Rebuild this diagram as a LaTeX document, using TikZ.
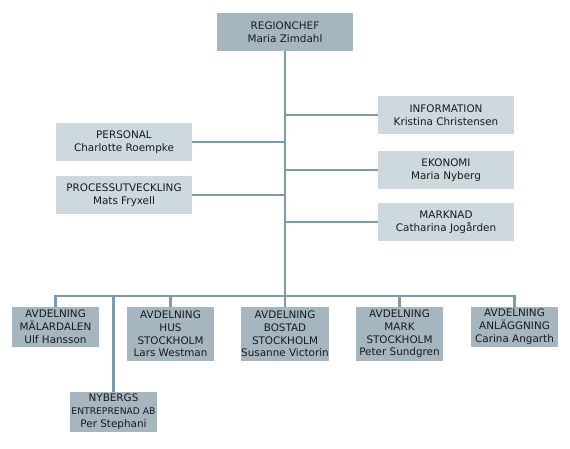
\documentclass[tikz,border=0pt]{standalone}
\usepackage{fontspec}
\setmainfont{DejaVu Sans}
\definecolor{darkbox}{HTML}{A5B6C1}
\definecolor{lightbox}{HTML}{CDD8DF}
\definecolor{linec}{HTML}{7F9BAB}
\definecolor{txt}{HTML}{1A1A1A}
\begin{document}
\begin{tikzpicture}[x=1pt,y=-1pt,
  box/.style={inner sep=0pt, align=center, text=txt, font=\fontsize{10.4}{12.8}\selectfont},
  headbox/.style={box, fill=darkbox, minimum width=136pt, minimum height=38pt},
  staffbox/.style={box, fill=lightbox, minimum width=136pt, minimum height=38pt},
  unitbox/.style={box, fill=darkbox, minimum width=87pt},
  conn/.style={draw=linec, line width=2.8pt}
]
\useasboundingbox (0,0) rectangle (570,448);
\fill[white] (0,0) rectangle (570,448);
% head
\node[headbox] (rc) at (285,32) {REGIONCHEF\\Maria Zimdahl};
% staff
\node[staffbox] (pers) at (124,142) {PERSONAL\\Charlotte Roempke};
\node[staffbox] (proc) at (124,195) {PROCESSUTVECKLING\\Mats Fryxell};
\node[staffbox] (info) at (446,115) {INFORMATION\\Kristina Christensen};
\node[staffbox] (eko) at (446,170) {EKONOMI\\Maria Nyberg};
\node[staffbox] (mark) at (446,222) {MARKNAD\\Catharina Jogården};
% units
\node[unitbox, minimum height=40pt] (mal) at (55.5,327) {AVDELNING\\MÄLARDALEN\\Ulf Hansson};
\node[unitbox, minimum height=54pt] (hus) at (170.5,334) {AVDELNING\\HUS\\STOCKHOLM\\Lars Westman};
\node[unitbox, minimum height=54pt] (bos) at (285,334) {AVDELNING\\BOSTAD\\STOCKHOLM\\Susanne Victorin};
\node[unitbox, minimum height=54pt] (mrk) at (399.5,334) {AVDELNING\\MARK\\STOCKHOLM\\Peter Sundgren};
\node[unitbox, minimum height=40pt] (anl) at (514.5,327) {AVDELNING\\ANLÄGGNING\\Carina Angarth};
\node[unitbox, minimum height=40pt] (nyb) at (113.5,412) {NYBERGS\\{\fontsize{9.2}{12.8}\selectfont ENTREPRENAD AB}\\Per Stephani};
% bus
\coordinate (busL) at (55.5,296);
\coordinate (busR) at (514.5,296);
\coordinate (busM) at (285,296);
\coordinate (nybTop) at (113.5,296);
\draw[conn] (rc.south) -- (busM);
\draw[conn, line cap=rect] (busL) -- (busR);
\draw[conn] (pers.east) -- (pers.east -| rc.south);
\draw[conn] (proc.east) -- (proc.east -| rc.south);
\draw[conn] (info.west) -- (info.west -| rc.south);
\draw[conn] (eko.west) -- (eko.west -| rc.south);
\draw[conn] (mark.west) -- (mark.west -| rc.south);
\draw[conn] (mal.north) -- (mal.north |- busL);
\draw[conn] (hus.north) -- (hus.north |- busL);
\draw[conn] (bos.north) -- (bos.north |- busL);
\draw[conn] (mrk.north) -- (mrk.north |- busL);
\draw[conn] (anl.north) -- (anl.north |- busL);
\draw[conn] (nyb.north) -- (nybTop);
\end{tikzpicture}
\end{document}
